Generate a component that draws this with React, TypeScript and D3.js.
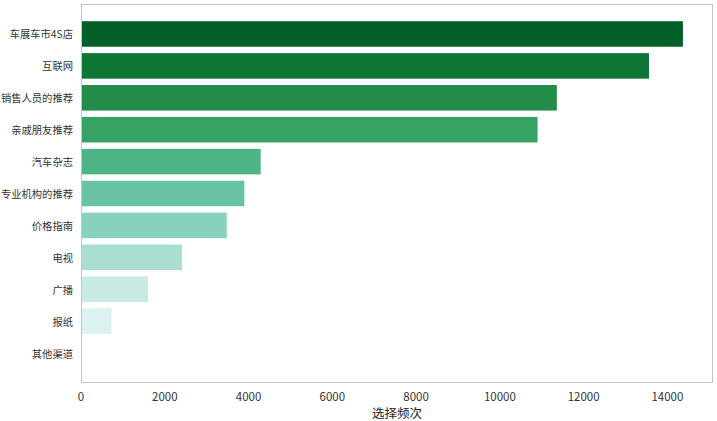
import * as d3 from 'd3';

const channels = [
  '车展车市4S店', '互联网', '销售人员的推荐', '亲戚朋友推荐', '汽车杂志',
  '专业机构的推荐', '价格指南', '电视', '广播', '报纸', '其他渠道',
];
const counts = [14370, 13560, 11360, 10900, 4290, 3900, 3480, 2410, 1600, 730, 0];
const xTicks = [0, 2000, 4000, 6000, 8000, 10000, 12000, 14000];
const xTitle = '选择频次';

const W = 717;
const H = 421;
const margin = { top: 4, right: 4, bottom: 38, left: 81 };
const font = '"Noto Sans CJK SC", "Noto Sans", sans-serif';

export default function App() {
  const innerW = W - margin.left - margin.right;
  const innerH = H - margin.top - margin.bottom;

  const x = d3.scaleLinear()
    .domain([0, (d3.max(counts) ?? 0) * 1.05])
    .range([0, innerW]);
  // barh with height 0.8 plus 5% margins, like matplotlib
  const y = d3.scaleBand().domain(channels).range([0, innerH])
    .paddingInner(0.2).paddingOuter(0.54);
  const color = (i: number) => d3.interpolateBuGn(1 - (i + 1) / (channels.length + 1));

  return (
    <div style={{ position: 'absolute', left: 0, top: 0 }}>
      <svg width={W} height={H} style={{ display: 'block', fontFamily: font }}>
        <rect width={W} height={H} fill="#fff" />
        <g transform={`translate(${margin.left},${margin.top})`}>
          {channels.map((c, i) => (
            <rect key={c} x={x(0)} y={y(c)} width={x(counts[i]) - x(0)}
              height={y.bandwidth()} fill={color(i)} />
          ))}
          <rect x={0.5} y={0.5} width={innerW - 1} height={innerH - 1}
            fill="none" stroke="#c4c4c4" strokeWidth={1} />
          {channels.map((c) => (
            <text key={c} x={-8} y={(y(c) ?? 0) + y.bandwidth() / 2}
              textAnchor="end" dominantBaseline="central" fontSize={10.3} fill="#333">{c}</text>
          ))}
          {xTicks.map((t) => (
            <text key={t} x={x(t)} y={innerH + 13} textAnchor="middle"
              dominantBaseline="central" fontSize={11.5} fill="#333">{t}</text>
          ))}
          <text x={innerW / 2} y={innerH + 29} textAnchor="middle"
            dominantBaseline="central" fontSize={12.5} fill="#222">{xTitle}</text>
        </g>
      </svg>
    </div>
  );
}
